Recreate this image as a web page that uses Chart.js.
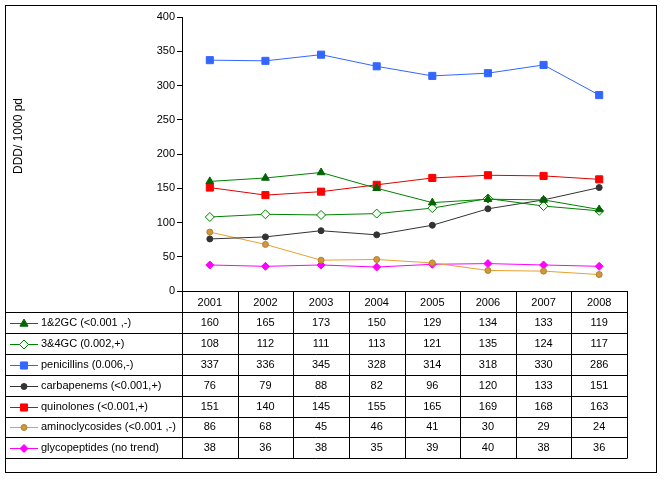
<!DOCTYPE html>
<html>
<head>
<meta charset="utf-8">
<script src="https://cdn.jsdelivr.net/npm/chart.js@4"></script>
<style>
  html, body { margin: 0; padding: 0; background: #fff; }
  #wrap { width: 664px; height: 481px; position: relative; }
</style>
</head>
<body>
<div id="wrap"><canvas id="chart" width="664" height="481"></canvas></div>
<script>
// data
const years = ['2001', '2002', '2003', '2004', '2005', '2006', '2007', '2008'];
const gc12 = [160, 165, 173, 150, 129, 134, 133, 119];
const gc34 = [108, 112, 111, 113, 121, 135, 124, 117];
const penicillins = [337, 336, 345, 328, 314, 318, 330, 286];
const carbapenems = [76, 79, 88, 82, 96, 120, 133, 151];
const quinolones = [151, 140, 145, 155, 165, 169, 168, 163];
const aminoglycosides = [86, 68, 45, 46, 41, 30, 29, 24];
const glycopeptides = [38, 36, 38, 35, 39, 40, 38, 36];
const yTicks = [0, 50, 100, 150, 200, 250, 300, 350, 400];

const FONT = '11px "Liberation Sans", Arial, sans-serif';

function series(label, data, line, fill, border, style, radius) {
    return {
        label: label,
        data: data,
        borderColor: line,
        borderWidth: 1,
        pointStyle: style,
        pointRadius: radius,
        pointBackgroundColor: fill,
        pointBorderColor: border,
        pointBorderWidth: 1,
        tension: 0,
        fill: false
    };
}

const datasets = [
    series('1&2GC (<0.001 ,-)', gc12, '#008000', '#006400', '#006400', 'triangle', 4.5),
    series('3&4GC (0.002,+)', gc34, '#008000', '#f4fff4', '#008000', 'rectRot', 4.5),
    series('penicillins (0.006,-)', penicillins, '#3366ff', '#3366ff', '#3366ff', 'rect', 5),
    series('carbapenems (<0.001,+)', carbapenems, '#333333', '#333333', '#333333', 'circle', 3),
    series('quinolones (<0.001,+)', quinolones, '#e00000', '#ff0000', '#ff0000', 'rect', 5),
    series('aminoclycosides (<0.001 ,-)', aminoglycosides, '#e8a030', '#d09838', '#b08030', 'circle', 3),
    series('glycopeptides (no trend)', glycopeptides, '#ff00ff', '#ff00ff', '#ff00ff', 'rectRot', 4)
];

// small marker painter for the legend column of the table
function drawMarker(ctx, ds, x, y) {
    const r = ds.pointRadius;
    ctx.save();
    ctx.fillStyle = ds.pointBackgroundColor;
    ctx.strokeStyle = ds.pointBorderColor;
    ctx.lineWidth = 1;
    ctx.beginPath();
    if (ds.pointStyle === 'triangle') {
        ctx.moveTo(x, y - r);
        ctx.lineTo(x + r * 0.9, y + r * 0.6);
        ctx.lineTo(x - r * 0.9, y + r * 0.6);
        ctx.closePath();
    } else if (ds.pointStyle === 'rectRot') {
        ctx.moveTo(x, y - r);
        ctx.lineTo(x + r, y);
        ctx.lineTo(x, y + r);
        ctx.lineTo(x - r, y);
        ctx.closePath();
    } else if (ds.pointStyle === 'rect') {
        const s = r * Math.SQRT1_2;
        ctx.rect(x - s, y - s, 2 * s, 2 * s);
    } else {
        ctx.arc(x, y, r, 0, Math.PI * 2);
    }
    ctx.fill();
    ctx.stroke();
    ctx.restore();
}

const HEADER_H = 21;
const ROW_H = 20.9;

const tablePlugin = {
    id: 'dataTable',
    afterDraw(chart) {
        const ctx = chart.ctx;
        const area = chart.chartArea;
        const x0 = 6;
        const left = area.left;
        const right = area.right;
        const top = area.bottom;
        const colW = (right - left) / years.length;
        const bottom = top + HEADER_H + ROW_H * datasets.length;

        ctx.save();
        // outer frame
        ctx.strokeStyle = '#000';
        ctx.lineWidth = 1;
        ctx.strokeRect(5.5, 5.5, 651, 467);

        // grid of the table
        ctx.beginPath();
        for (let i = 0; i <= years.length; i++) {
            const x = Math.round(left + i * colW) + 0.5;
            ctx.moveTo(x, top);
            ctx.lineTo(x, bottom);
        }
        for (let r = 0; r <= datasets.length; r++) {
            const y = Math.round(top + HEADER_H + r * ROW_H) + 0.5;
            ctx.moveTo(x0, y);
            ctx.lineTo(right + 0.5, y);
        }
        ctx.stroke();

        ctx.font = FONT;
        ctx.fillStyle = '#000';
        ctx.textBaseline = 'middle';
        ctx.textAlign = 'center';
        years.forEach((yr, i) => {
            ctx.fillText(yr, left + (i + 0.5) * colW, top + HEADER_H / 2 + 1);
        });

        datasets.forEach((ds, r) => {
            const cy = top + HEADER_H + (r + 0.5) * ROW_H + 0.5;
            // legend key
            ctx.strokeStyle = ds.borderColor;
            ctx.beginPath();
            ctx.moveTo(10, Math.round(cy) + 0.5);
            ctx.lineTo(38, Math.round(cy) + 0.5);
            ctx.stroke();
            drawMarker(ctx, ds, 24, Math.round(cy) + 0.5);
            ctx.fillStyle = '#000';
            ctx.textAlign = 'left';
            ctx.fillText(ds.label, 41, cy);
            ctx.textAlign = 'center';
            ds.data.forEach((v, i) => {
                ctx.fillText(String(v), left + (i + 0.5) * colW, cy);
            });
        });

        // axis title
        ctx.font = '12px "Liberation Sans", Arial, sans-serif';
        ctx.translate(19, 136);
        ctx.rotate(-Math.PI / 2);
        ctx.textAlign = 'center';
        ctx.fillText('DDD/ 1000 pd', 0, 0);
        ctx.restore();
    }
};

new Chart(document.getElementById('chart'), {
    type: 'line',
    data: { labels: years, datasets: datasets },
    options: {
        responsive: false,
        animation: false,
        layout: { padding: { left: 0, top: 17, right: 37, bottom: 190 } },
        plugins: {
            legend: { display: false },
            tooltip: { enabled: false }
        },
        scales: {
            x: {
                offset: true,
                grid: { display: false },
                border: { display: true, color: '#000', width: 1 },
                ticks: { display: false },
                afterFit(scale) { scale.height = 0; }
            },
            y: {
                min: 0,
                max: 400,
                afterBuildTicks(scale) { scale.ticks = yTicks.map(v => ({ value: v })); },
                grid: { drawOnChartArea: false, drawTicks: true, tickLength: 5, color: '#000' },
                border: { display: true, color: '#000', width: 1 },
                ticks: { color: '#000', font: { family: '"Liberation Sans", Arial, sans-serif', size: 11 }, padding: 2 },
                afterFit(scale) { scale.width = 182; }
            }
        }
    },
    plugins: [tablePlugin]
});
</script>
</body>
</html>
